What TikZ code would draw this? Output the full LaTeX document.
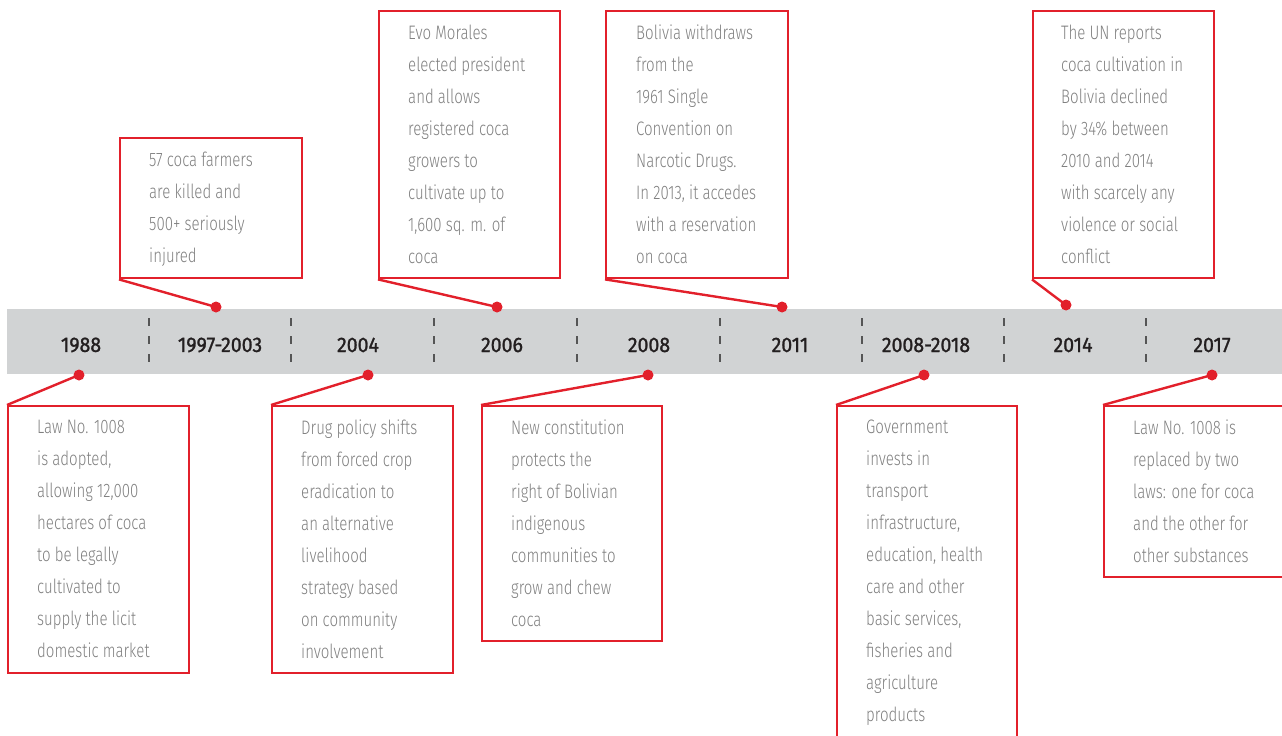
\documentclass[tikz,border=0pt]{standalone}
\usepackage{fontspec}
\newfontfamily\bodyfont{Fira Sans Light}[FakeStretch=0.77]
\newfontfamily\yearfont{Fira Sans}[FakeStretch=0.93,FakeBold=1.2]
\definecolor{tlred}{HTML}{E2202B}
\definecolor{tlbar}{HTML}{D1D3D4}
\definecolor{tltext}{HTML}{808080}
\definecolor{tlyear}{HTML}{231F20}
\definecolor{tlsep}{HTML}{555555}
\tikzset{
  evbox/.style={draw=tlred, line width=2.4pt, fill=white, inner sep=0pt, anchor=north west},
  evtext/.style={anchor=north west, inner sep=0pt, align=left, text=tltext,
    font={\bodyfont\fontsize{19.5}{32}\selectfont}},
  year/.style={text=tlyear, font={\yearfont\fontsize{21}{24}\selectfont}, inner sep=0pt},
  dot/.style={circle, fill=tlred, inner sep=0pt, minimum size=11pt},
  link/.style={draw=tlred, line width=2.4pt},
  sep/.style={draw=tlsep, line width=1.3pt, dash pattern=on 8pt off 10pt}
}
\begin{document}
\begin{tikzpicture}[x=1pt,y=-1pt]
\useasboundingbox (0,0) rectangle (1282,736);
\clip (0,0) rectangle (1282,736);
% bar
\fill[tlbar] (7,309) rectangle (1290,374);
\foreach \sx [count=\i] in {149,291,434,577,720,862,1004,1146}{
  \coordinate (s\i a) at (\sx,318);
  \coordinate (s\i b) at (\sx,362);
  \draw[sep] (s\i a) -- (s\i b);
}
% years
\node[year] (y1988) at (81,345) {1988};
\node[year] (y1997) at (220,345) {1997-2003};
\node[year] (y2004) at (358,345) {2004};
\node[year] (y2006) at (502,345) {2006};
\node[year] (y2008) at (649,345) {2008};
\node[year] (y2011) at (790,345) {2011};
\node[year] (y2018) at (926,345) {2008-2018};
\node[year] (y2014) at (1073,345) {2014};
\node[year] (y2017) at (1212,345) {2017};
% dots
\node[dot] (d1997) at (216,307) {};
\node[dot] (d2006) at (497,307) {};
\node[dot] (d2011) at (782,307) {};
\node[dot] (d2014) at (1066,305) {};
\node[dot] (d1988) at (79,375) {};
\node[dot] (d2004) at (368,375) {};
\node[dot] (d2008) at (648,375) {};
\node[dot] (d2018) at (924,375) {};
\node[dot] (d2017) at (1212,375) {};
% top boxes
\node[evbox, minimum width=182pt, minimum height=140pt] (b1997) at (119,137) {};
\node[evtext] (t1997) at (149,152) {57 coca farmers\\are killed and\\500+ seriously\\injured};
\node[evbox, minimum width=181pt, minimum height=267pt] (b2006) at (378,10) {};
\node[evtext] (t2006) at (408,25) {Evo Morales\\elected president\\and allows\\registered coca\\growers to\\cultivate up to\\1,600 sq. m. of\\coca};
\node[evbox, minimum width=182pt, minimum height=267pt] (b2011) at (605,10) {};
\node[evtext] (t2011) at (636,25) {Bolivia withdraws\\from the\\1961 Single\\Convention on\\Narcotic Drugs.\\In 2013, it accedes\\with a reservation\\on coca};
\node[evbox, minimum width=181pt, minimum height=267pt] (b2014) at (1032,10) {};
\node[evtext] (t2014) at (1061,25) {The UN reports\\coca cultivation in\\Bolivia declined\\by 34\% between\\2010 and 2014\\with scarcely any\\violence or social\\conflict};
% bottom boxes
\node[evbox, minimum width=181pt, minimum height=267pt] (b1988) at (7,405) {};
\node[evtext] (t1988) at (37,420) {Law No. 1008\\is adopted,\\allowing 12,000\\hectares of coca\\to be legally\\cultivated to\\supply the licit\\domestic market};
\node[evbox, minimum width=181pt, minimum height=267pt] (b2004) at (271,405) {};
\node[evtext] (t2004) at (301,420) {Drug policy shifts\\from forced crop\\eradication to\\an alternative\\livelihood\\strategy based\\on community\\involvement};
\node[evbox, minimum width=180pt, minimum height=235pt] (b2008) at (481,405) {};
\node[evtext] (t2008) at (511,420) {New constitution\\protects the\\right of Bolivian\\indigenous\\communities to\\grow and chew\\coca};
\node[evbox, minimum width=180pt, minimum height=340pt] (b2018) at (836,405) {};
\node[evtext] (t2018) at (866,420) {Government\\invests in\\transport\\infrastructure,\\education, health\\care and other\\basic services,\\fisheries and\\agriculture\\products};
\node[evbox, minimum width=190pt, minimum height=171pt] (b2017) at (1103,405) {};
\node[evtext] (t2017) at (1133,420) {Law No. 1008 is\\replaced by two\\laws: one for coca\\and the other for\\other substances};
% connectors
\draw[link] (b1997.south west) -- (d1997.center);
\draw[link] (b2006.south west) -- (d2006.center);
\draw[link] (b2011.south west) -- (d2011.center);
\draw[link] (b2014.south west) -- (d2014.center);
\draw[link] (b1988.north west) -- (d1988.center);
\draw[link] (b2004.north west) -- (d2004.center);
\draw[link] (b2008.north west) -- (d2008.center);
\draw[link] (b2018.north west) -- (d2018.center);
\draw[link] (b2017.north west) -- (d2017.center);
\end{tikzpicture}
\end{document}
